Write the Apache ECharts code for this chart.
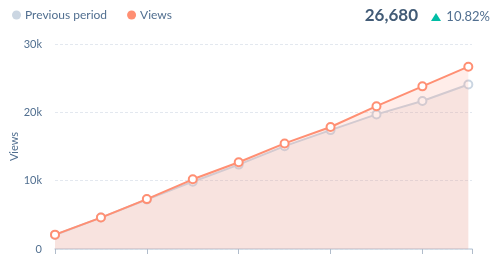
<!DOCTYPE html>
<html>
<head>
<meta charset="utf-8">
<script src="https://cdn.jsdelivr.net/npm/echarts@6/dist/echarts.min.js"></script>
<style>html,body{margin:0;padding:0;background:#fff}#c{width:500px;height:257px}</style>
</head>
<body>
<div id="c"></div>
<script>
var periods = [0, 1, 2, 3, 4, 5, 6, 7, 8, 9];
var viewsValues = [2100, 4600, 7300, 10200, 12700, 15450, 17850, 20900, 23800, 26680];
var previousValues = [2050, 4600, 7250, 9850, 12350, 15050, 17400, 19700, 21650, 24075];
var yTicks = [0, 10000, 20000, 30000];
var yTickLabels = ['0', '10k', '20k', '30k'];
var totalLabel = '26,680';
var changeLabel = '10.82%';

var font = 'Lato, "Open Sans", sans-serif';
var chart = echarts.init(document.getElementById('c'), null, {renderer: 'canvas'});
function pairs(vals){ return periods.map(function(p, i){ return [p, vals[i]]; }); }
chart.setOption({
  animation: false,
  textStyle: {fontFamily: font},
  legend: {
    left: 7, top: 4, icon: 'circle', itemWidth: 9, itemHeight: 9, itemGap: 20,
    textStyle: {fontFamily: font, fontSize: 12, color: '#516f90', padding: [0,0,0,-1]},
    data: [
      {name: 'Previous period', itemStyle: {color: '#cbd6e2', borderWidth: 0}},
      {name: 'Views', itemStyle: {color: '#ff8f73', borderWidth: 0}}
    ]
  },
  graphic: [
    {type: 'text', right: 82, top: 7, style: {text: totalLabel, font: 'bold 17px ' + font, fill: '#425b76'}},
    {type: 'polygon', shape: {points: [[431, 21], [441, 21], [436, 13]]}, style: {fill: '#00bda5'}},
    {type: 'text', right: 10, top: 10, style: {text: changeLabel, font: '13px ' + font, fill: '#516f90'}}
  ],
  grid: {left: 55, right: 28, top: 44, bottom: 8, containLabel: false, outerBoundsMode: 'none'},
  xAxis: {
    type: 'value', min: 0, max: 9.08, interval: 2,
    axisLine: {show: true, lineStyle: {color: '#cbd6e2', width: 1.5}},
    axisTick: {show: true, length: 5, lineStyle: {color: '#b0bccb'}},
    axisLabel: {show: false}, splitLine: {show: false}
  },
  yAxis: {
    type: 'value', min: 0, max: 30000, interval: 10000,
    name: 'Views', nameLocation: 'middle', nameGap: 35, nameRotate: 90, nameMoveOverlap: false,
    nameTextStyle: {fontFamily: font, fontSize: 11, color: '#516f90'},
    axisLine: {show: false}, axisTick: {show: false},
    axisLabel: {margin: 13, fontSize: 11, color: '#516f90', fontFamily: font,
      formatter: function(v){ var i = yTicks.indexOf(v); return i >= 0 ? yTickLabels[i] : ''; }},
    splitLine: {show: true, lineStyle: {color: '#e3e8ef', type: [3, 2], width: 1}}
  },
  series: [
    {
      name: 'Views', type: 'line', data: pairs(viewsValues), z: 2,
      symbol: 'circle', symbolSize: 8, showAllSymbol: true,
      itemStyle: {color: '#fff', borderColor: '#ff8f73', borderWidth: 2},
      lineStyle: {color: '#ff8f73', width: 2},
      areaStyle: {color: 'rgba(255,140,110,0.22)'}
    },
    {
      name: 'Previous period', type: 'line', data: pairs(previousValues), z: 1,
      symbol: 'circle', symbolSize: 8, showAllSymbol: true,
      itemStyle: {color: '#fff', borderColor: '#cbd6e2', borderWidth: 2},
      lineStyle: {color: '#cbd6e2', width: 2},
      areaStyle: {color: 'rgba(200,170,170,0.2)'}
    }
  ]
});
</script>
</body>
</html>
